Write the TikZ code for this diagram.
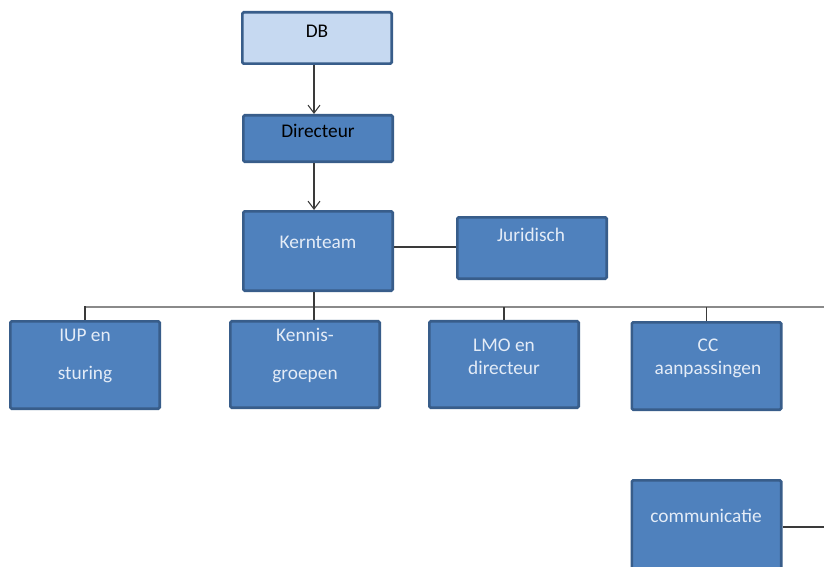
\documentclass[tikz,border=0pt]{standalone}
\usepackage{fontspec}
\setmainfont{Carlito}
\usepackage{xcolor}
\definecolor{cMain}{HTML}{4F81BD}
\definecolor{cEdge}{HTML}{385D8A}
\definecolor{cLight}{HTML}{C6D9F1}
\definecolor{cText}{HTML}{E4ECF7}
\definecolor{cLine}{HTML}{3A3A3A}
\definecolor{cBus}{HTML}{8A8A8A}
\usepackage{tikz}
\usetikzlibrary{positioning,arrows.meta}
\tikzset{
  node-box/.style={draw=cEdge,line width=2pt,fill=cMain,rounded corners=1pt,
    minimum width=112pt,inner sep=0pt},
  node-top/.style={fill=cLight},
  node-text/.style={text=cText,align=center,inner sep=0pt,
    font=\fontsize{14.5}{17}\selectfont},
  node-dark/.style={text=black},
  arrow/.style={-{Straight Barb[length=6pt,width=9pt]},line width=0.8pt,draw=cLine},
  link/.style={line width=0.8pt,draw=cLine},
  bus/.style={line width=1.2pt,draw=cBus},
}

\begin{document}
\begin{tikzpicture}[x=0.75pt,y=-0.75pt]
  \useasboundingbox (0,0) rectangle (824,567);
  % top of the chart
  \node[node-box,node-top,minimum height=38.5pt] (db)  at (317,38)    {};
  \node[node-box,minimum height=34.8pt]          (dir) at (318,138.5) {};
  \node[node-box,minimum height=59.5pt]          (kern) at (318,251)  {};
  \node[node-box,minimum height=46pt]            (jur) at (532,248)   {};
  % werkgroepen
  \node[node-box,minimum height=65.5pt]          (iup) at (85,365)    {};
  \node[node-box,minimum height=64.8pt]          (ken) at (305,364.5) {};
  \node[node-box,minimum height=64.8pt]          (lmo) at (504,364.5) {};
  \node[node-box,minimum height=65.5pt]          (cc)  at (706.5,366) {};
  \node[node-box,minimum height=70pt]            (com) at (706.5,527) {};
  % labels
  \node[node-text,node-dark] (db-t)   at (317,31)    {DB};
  \node[node-text,node-dark] (dir-t)  at (318,131)   {Directeur};
  \node[node-text]           (kern-t) at (318,242)   {Kernteam};
  \node[node-text]           (jur-t)  at (531,235)   {Juridisch};
  \node[node-text]           (iup-t)  at (85,356)    {IUP en\\[12pt]sturing};
  \node[node-text]           (ken-t)  at (305,355.5) {Kennis-\\[12pt]groepen};
  \node[node-text]           (lmo-t)  at (504,357)   {LMO en\\directeur};
  \node[node-text]           (cc-t)   at (708,358.5) {CC\\aanpassingen};
  \node[node-text]           (com-t)  at (706,516)   {communicatie};
  % connectors
  \coordinate (spine) at (314,0);
  \coordinate (side)  at (0,247);
  \coordinate (busL)  at (86,307);
  \coordinate (busR)  at (830,307);
  \draw[arrow] (db.south -| spine) -- (dir.north -| spine);
  \draw[arrow] (dir.south -| spine) -- (kern.north -| spine);
  \draw[link] (kern.east |- side) -- (jur.west |- side);
  \draw[bus] (busL) -- (busR);
  \draw[link] (busL) -- (iup.north |- busL) -- (iup.north);
  \draw[link] (kern.south -| spine) -- (ken.north -| spine);
  \draw[link] (lmo.north |- busL) -- (lmo.north);
  \draw[link] (cc.north |- busL) -- (cc.north);
  \draw[link] (com.east) -- (com.east -| busR);
\end{tikzpicture}
\end{document}
